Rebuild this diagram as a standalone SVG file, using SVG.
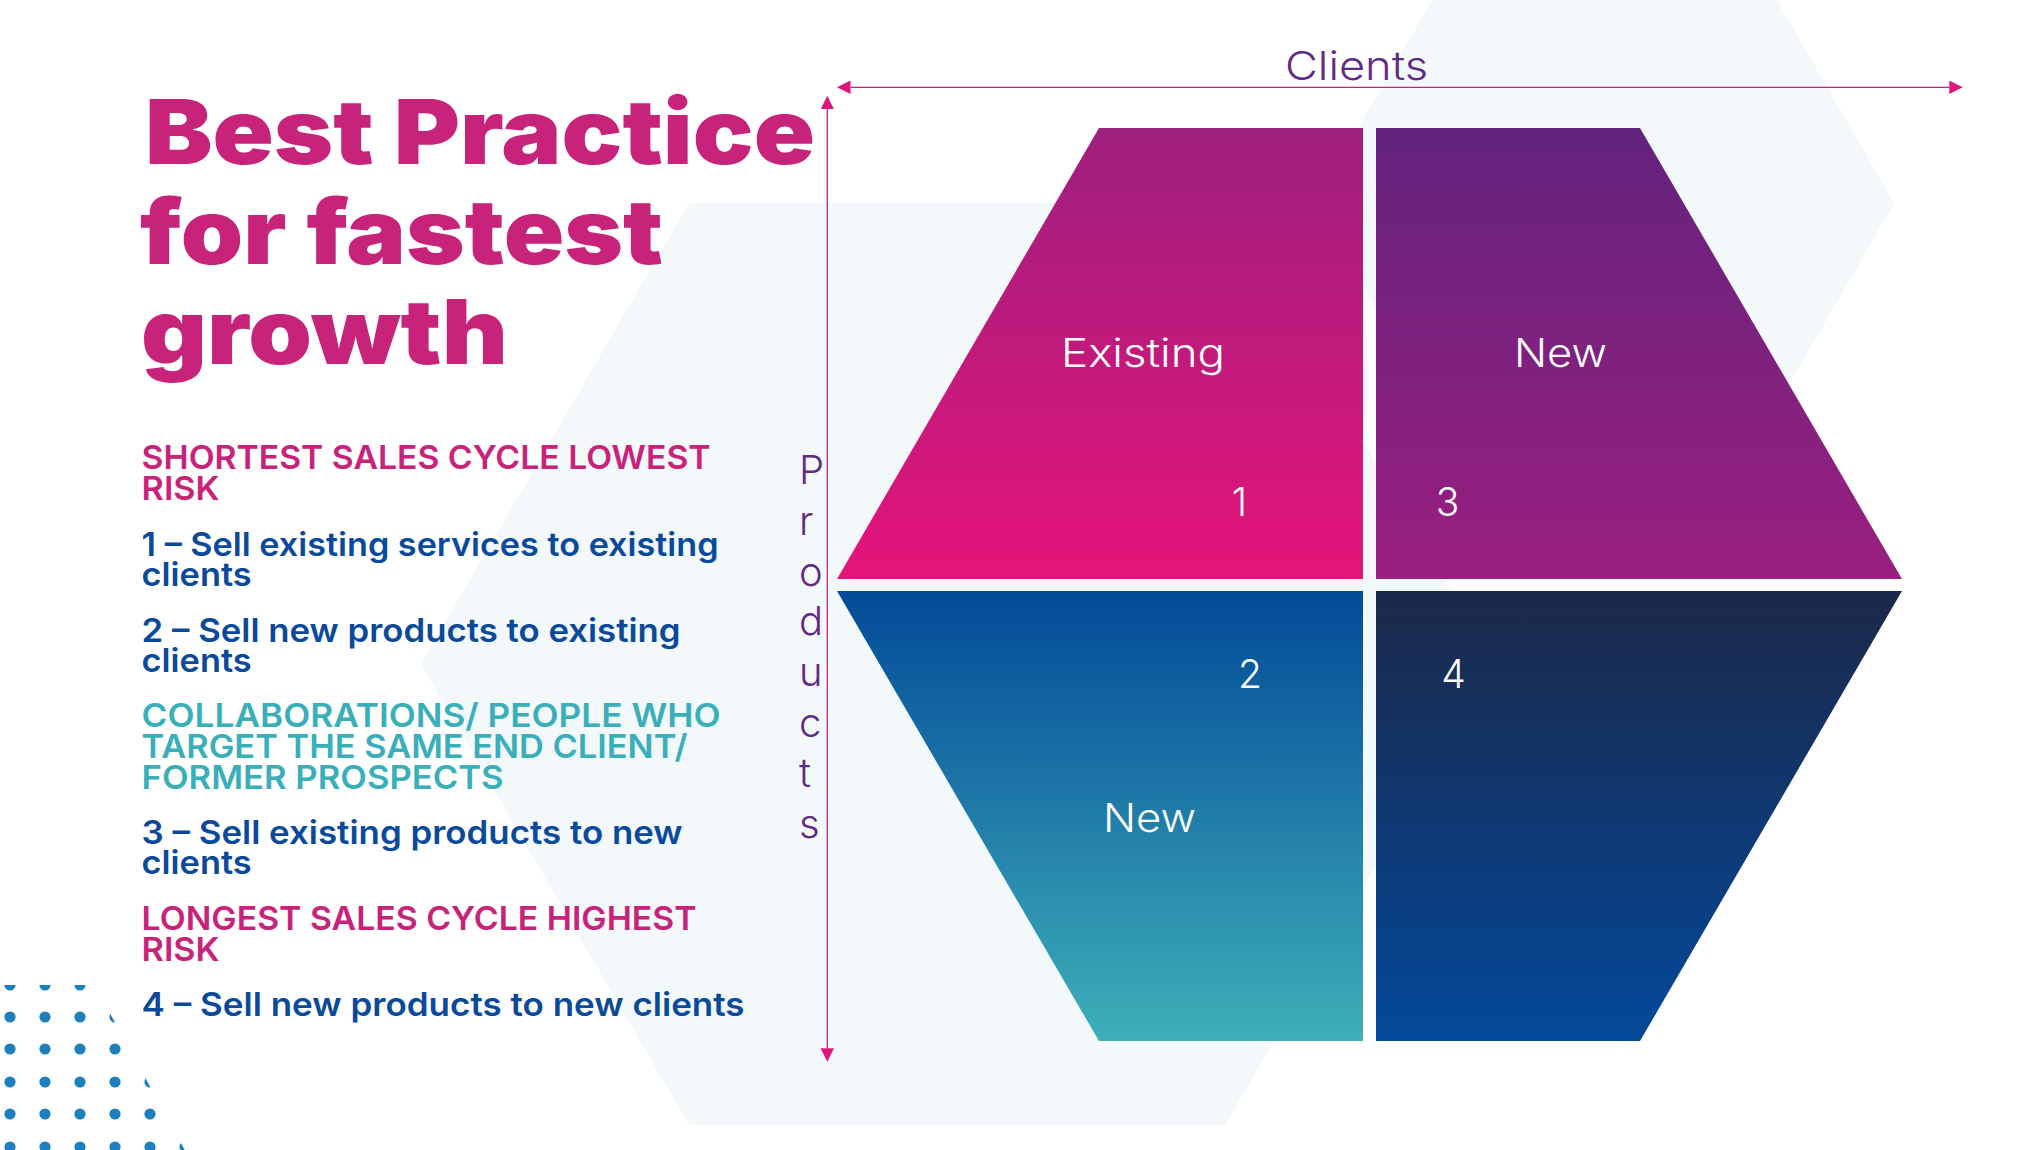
<svg xmlns="http://www.w3.org/2000/svg" width="2023" height="1150" viewBox="0 0 2023 1150">
  <defs>
    <style>
      .title { font-family: Inter, Lato, "Liberation Sans", sans-serif; font-weight: 900; font-size: 90px; fill: #C8237A; }
      .body { font-family: Inter, "Open Sans", "Liberation Sans", sans-serif; font-weight: 600; font-size: 33px; }
      .pink { fill: #C8237A; }
      .blue { fill: #0B4A9B; }
      .teal { fill: #3AAFB9; }
      .axis-label { font-family: Inter, "Open Sans", "Liberation Sans", sans-serif; font-weight: 300; font-size: 40px; fill: #612A85; }
      .q-label { font-family: Inter, "Open Sans", "Liberation Sans", sans-serif; font-weight: 300; font-size: 39px; fill: #FFFFFF; }
      .hex { fill: #F3F8FB; }
      .dot { fill: #1E7FBE; }
      .axis { stroke: #E0157A; stroke-width: 1.3; fill: none; }
    </style>
    <linearGradient id="gTL" x1="0" y1="0" x2="0" y2="1">
      <stop offset="0" stop-color="#9E1F7E"/>
      <stop offset="1" stop-color="#E5147A"/>
    </linearGradient>
    <linearGradient id="gTR" x1="0" y1="0" x2="0" y2="1">
      <stop offset="0" stop-color="#63237D"/>
      <stop offset="1" stop-color="#9A1F80"/>
    </linearGradient>
    <linearGradient id="gBL" x1="0" y1="0" x2="0" y2="1">
      <stop offset="0" stop-color="#034A98"/>
      <stop offset="1" stop-color="#3EAFB9"/>
    </linearGradient>
    <linearGradient id="gBR" x1="0" y1="0" x2="0" y2="1">
      <stop offset="0" stop-color="#1C2849"/>
      <stop offset="1" stop-color="#03499A"/>
    </linearGradient>
    <marker id="arrow" markerUnits="userSpaceOnUse" markerWidth="14" markerHeight="14" refX="0" refY="6.7" orient="auto-start-reverse">
      <path d="M0,0 L13.5,6.7 L0,13.4 Z" fill="#E0157A"/>
    </marker>
    <clipPath id="dotClip">
      <polygon points="-10,985 94.5,985 199,1176 -10,1176"/>
    </clipPath>
  </defs>

  <rect width="2023" height="1150" fill="#FFFFFF"/>

  <g id="background">
    <polygon class="hex" points="689,203 1225,203 1493,664 1225,1125 689,1125 421,664"/>
    <polygon class="hex" points="1460,-48 1749,-48 1894,203 1749,454 1460,454 1315,203"/>
    <g id="dots" clip-path="url(#dotClip)">
      <circle class="dot" cx="10" cy="985" r="5.6"/><circle class="dot" cx="45" cy="985" r="5.6"/><circle class="dot" cx="80" cy="985" r="5.6"/><circle class="dot" cx="115" cy="985" r="5.6"/>
      <circle class="dot" cx="10" cy="1017" r="5.6"/><circle class="dot" cx="45" cy="1017" r="5.6"/><circle class="dot" cx="80" cy="1017" r="5.6"/><circle class="dot" cx="115" cy="1017" r="5.6"/><circle class="dot" cx="150" cy="1017" r="5.6"/>
      <circle class="dot" cx="10" cy="1049" r="5.6"/><circle class="dot" cx="45" cy="1049" r="5.6"/><circle class="dot" cx="80" cy="1049" r="5.6"/><circle class="dot" cx="115" cy="1049" r="5.6"/><circle class="dot" cx="150" cy="1049" r="5.6"/>
      <circle class="dot" cx="10" cy="1082" r="5.6"/><circle class="dot" cx="45" cy="1082" r="5.6"/><circle class="dot" cx="80" cy="1082" r="5.6"/><circle class="dot" cx="115" cy="1082" r="5.6"/><circle class="dot" cx="150" cy="1082" r="5.6"/><circle class="dot" cx="185" cy="1082" r="5.6"/>
      <circle class="dot" cx="10" cy="1114" r="5.6"/><circle class="dot" cx="45" cy="1114" r="5.6"/><circle class="dot" cx="80" cy="1114" r="5.6"/><circle class="dot" cx="115" cy="1114" r="5.6"/><circle class="dot" cx="150" cy="1114" r="5.6"/><circle class="dot" cx="185" cy="1114" r="5.6"/>
      <circle class="dot" cx="10" cy="1147" r="5.6"/><circle class="dot" cx="45" cy="1147" r="5.6"/><circle class="dot" cx="80" cy="1147" r="5.6"/><circle class="dot" cx="115" cy="1147" r="5.6"/><circle class="dot" cx="150" cy="1147" r="5.6"/><circle class="dot" cx="185" cy="1147" r="5.6"/><circle class="dot" cx="220" cy="1147" r="5.6"/>
    </g>
  </g>

  <g id="title">
    <text class="title" x="145" y="163.5" textLength="670" lengthAdjust="spacingAndGlyphs">Best Practice</text>
    <text class="title" x="140" y="264" textLength="523" lengthAdjust="spacingAndGlyphs">for fastest</text>
    <text class="title" x="141" y="364" textLength="367" lengthAdjust="spacingAndGlyphs">growth</text>
  </g>

  <g id="legend" class="body">
    <text class="pink" x="141.6" y="469.4" textLength="569" lengthAdjust="spacingAndGlyphs">SHORTEST SALES CYCLE LOWEST</text>
    <text class="pink" x="141.6" y="500.4" textLength="78" lengthAdjust="spacingAndGlyphs">RISK</text>
    <text class="blue" x="141.6" y="555.5" textLength="577" lengthAdjust="spacingAndGlyphs">1 – Sell existing services to existing</text>
    <text class="blue" x="141.6" y="585.6" textLength="110" lengthAdjust="spacingAndGlyphs">clients</text>
    <text class="blue" x="141.6" y="641.5" textLength="539" lengthAdjust="spacingAndGlyphs">2 – Sell new products to existing</text>
    <text class="blue" x="141.6" y="671.7" textLength="110" lengthAdjust="spacingAndGlyphs">clients</text>
    <text class="teal" x="141.6" y="726.7" textLength="579" lengthAdjust="spacingAndGlyphs">COLLABORATIONS/ PEOPLE WHO</text>
    <text class="teal" x="141.6" y="757.8" textLength="546" lengthAdjust="spacingAndGlyphs">TARGET THE SAME END CLIENT/</text>
    <text class="teal" x="141.6" y="788.9" textLength="362" lengthAdjust="spacingAndGlyphs">FORMER PROSPECTS</text>
    <text class="blue" x="141.6" y="843.9" textLength="541" lengthAdjust="spacingAndGlyphs">3 – Sell existing products to new</text>
    <text class="blue" x="141.6" y="873.5" textLength="110" lengthAdjust="spacingAndGlyphs">clients</text>
    <text class="pink" x="141.6" y="930" textLength="555" lengthAdjust="spacingAndGlyphs">LONGEST SALES CYCLE HIGHEST</text>
    <text class="pink" x="141.6" y="961" textLength="78" lengthAdjust="spacingAndGlyphs">RISK</text>
    <text class="blue" x="141.6" y="1015.6" textLength="603" lengthAdjust="spacingAndGlyphs">4 – Sell new products to new clients</text>
  </g>

  <g id="q1-existing">
    <polygon points="1099,128 1363,128 1363,579 837,579" fill="url(#gTL)"/>
    <text class="q-label" x="1061" y="366.6" textLength="164" lengthAdjust="spacingAndGlyphs">Existing</text>
    <text class="q-label" x="1239.5" y="516" text-anchor="middle">1</text>
  </g>
  <g id="q3-new">
    <polygon points="1376,128 1640,128 1902,579 1376,579" fill="url(#gTR)"/>
    <text class="q-label" x="1514" y="366.6" textLength="93" lengthAdjust="spacingAndGlyphs">New</text>
    <text class="q-label" x="1447.5" y="516" text-anchor="middle">3</text>
  </g>
  <g id="q2-new">
    <polygon points="837,591 1363,591 1363,1041 1099,1041" fill="url(#gBL)"/>
    <text class="q-label" x="1250" y="688" text-anchor="middle">2</text>
    <text class="q-label" x="1103" y="832.4" textLength="93" lengthAdjust="spacingAndGlyphs">New</text>
  </g>
  <g id="q4">
    <polygon points="1376,591 1902,591 1640,1041 1376,1041" fill="url(#gBR)"/>
    <text class="q-label" x="1453.5" y="688" text-anchor="middle">4</text>
  </g>

  <g id="connectors">
    <line class="axis" x1="850.5" y1="87.3" x2="1949.3" y2="87.3" marker-start="url(#arrow)" marker-end="url(#arrow)"/>
    <line class="axis" x1="827.3" y1="109.3" x2="827.3" y2="1048.3" marker-start="url(#arrow)" marker-end="url(#arrow)"/>
  </g>

  <g id="axis-labels">
    <text class="axis-label" x="1356.5" y="80.4" text-anchor="middle" textLength="143" lengthAdjust="spacingAndGlyphs">Clients</text>
    <text class="axis-label">
      <tspan x="799" y="483.7">P</tspan>
      <tspan x="799" y="535">r</tspan>
      <tspan x="799" y="585.6">o</tspan>
      <tspan x="799" y="635.3">d</tspan>
      <tspan x="799" y="686">u</tspan>
      <tspan x="799" y="737.2">c</tspan>
      <tspan x="799" y="787.4">t</tspan>
      <tspan x="799" y="837.7">s</tspan>
    </text>
  </g>
</svg>
